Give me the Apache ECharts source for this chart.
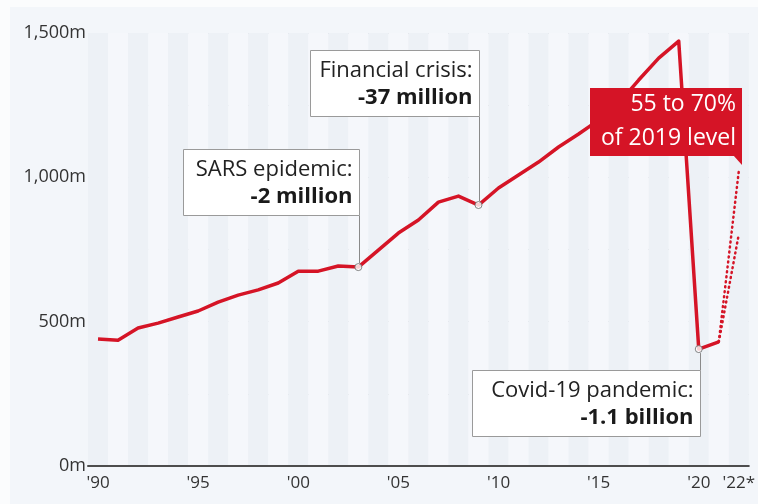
<!DOCTYPE html>
<html>
<head>
<meta charset="utf-8">
<script src="https://cdn.jsdelivr.net/npm/echarts@6/dist/echarts.min.js"></script>
<style>html,body{margin:0;padding:0;background:#fff}#c{width:758px;height:504px}</style>
</head>
<body>
<div id="c"></div>
<script>
// ---- data ----
const years = ['1990','1991','1992','1993','1994','1995','1996','1997','1998','1999','2000','2001','2002','2003','2004','2005','2006','2007','2008','2009','2010','2011','2012','2013','2014','2015','2016','2017','2018','2019','2020','2021','2022'];
const arrivals = [440,436,478,495,516,537,568,592,610,634,675,675,693,689,748,807,852,914,935,904,963,1008,1053,1105,1150,1198,1257,1337,1413,1472,405,430];
const projectionYears = ['2021','2022'];
const projectionHigh = [430,1022];
const projectionLow = [430,803];
const yTickValues = [0,500,1000,1500];
const xTickYears = ['1990','1995','2000','2005','2010','2015','2020','2022'];
const xTickLabels = ["'90","'95","'00","'05","'10","'15","'20","'22*"];
const eventYears = ['2003','2009','2020'];
const eventTitles = ['SARS epidemic:','Financial crisis:','Covid-19 pandemic:'];
const eventChanges = ['-2 million','-37 million','-1.1 billion'];
const calloutLines = ['55 to 70%','of 2019 level'];

const RED = '#d51426';
const FONT = '"Open Sans", "Noto Sans", sans-serif';

const chart = echarts.init(document.getElementById('c'), null, {renderer:'canvas'});

const idx = y => years.indexOf(y);
const padSeries = (ys, vals) => years.map(y => { const i = ys.indexOf(y); return i < 0 ? null : vals[i]; });

chart.setOption({
  backgroundColor: '#f3f6fa',
  animation: false,
  grid: {left: 88, right: 4, top: 33, bottom: 38, containLabel: false},
  xAxis: {
    type: 'category', data: years, boundaryGap: true,
    axisLine: {show: true, lineStyle: {color: '#4d4d4d', width: 2}},
    axisTick: {show: false},
    axisLabel: {
      interval: (i, v) => xTickYears.includes(v),
      formatter: v => { const i = xTickYears.indexOf(v); return i < 0 ? '' : xTickLabels[i]; },
      color: '#333', fontSize: 17, fontFamily: FONT, margin: 9
    },
    splitLine: {show: false},
    splitArea: {show: true, interval: 0, areaStyle: {color: ['#edf1f6', '#f5f7fb']}}
  },
  yAxis: {
    type: 'value', min: 0, max: 1500, interval: 250,
    axisLine: {show: false}, axisTick: {show: false},
    axisLabel: {
      formatter: v => yTickValues.includes(v) ? v.toLocaleString('en-US') + 'm' : '',
      color: '#333', fontSize: 18, fontFamily: FONT, margin: 2
    },
    splitLine: {show: true, lineStyle: {color: '#c6cbd3', width: 1}}
  },
  series: [
    {type: 'line', data: arrivals, symbol: 'none', lineStyle: {color: RED, width: 3.5, join: 'round'}, z: 3},
    {type: 'line', data: padSeries(projectionYears, projectionHigh), symbol: 'none', connectNulls: false,
      lineStyle: {color: RED, width: 2.5, type: [1, 4], cap: 'round'}, z: 3},
    {type: 'line', data: padSeries(projectionYears, projectionLow), symbol: 'none', connectNulls: false,
      lineStyle: {color: RED, width: 2.5, type: [1, 4], cap: 'round'}, z: 3},
    {type: 'scatter', data: eventYears.map(y => [y, arrivals[idx(y)]]), symbol: 'circle', symbolSize: 7,
      itemStyle: {color: '#fff', borderColor: '#666', borderWidth: 1}, z: 5}
  ]
});

// ---- annotations positioned through the chart's scales ----
const px = (y, v) => chart.convertToPixel({xAxisIndex: 0, yAxisIndex: 0}, [y, v]);
const boxW = [176, 169, 228];
const boxGap = [-52, -89, 21]; // negative: box above point, positive: below
const BOX_H = 66;
const g = [];
// white page edge
g.push({type: 'rect', shape: {x: 0, y: 0, width: 758, height: 7}, style: {fill: '#fbfcfd'}, z: 0});
g.push({type: 'rect', shape: {x: 0, y: 0, width: 10, height: 504}, style: {fill: '#fbfcfd'}, z: 0});

eventYears.forEach((y, k) => {
  const p = px(y, arrivals[idx(y)]);
  const right = Math.round(p[0]) + 1.5;
  let top, lineFrom, lineTo;
  if (boxGap[k] < 0) { top = Math.round(p[1] + boxGap[k] - BOX_H) + 0.5; lineFrom = top + BOX_H; lineTo = p[1] - 4; }
  else { top = Math.round(p[1] + boxGap[k]) + 0.5; lineFrom = p[1] + 4; lineTo = top; }
  g.push({type: 'line', shape: {x1: right, y1: lineFrom, x2: right, y2: lineTo}, style: {stroke: '#8a8a8a', lineWidth: 1}, z: 50});
  g.push({type: 'rect', shape: {x: right - boxW[k], y: top, width: boxW[k], height: BOX_H},
    style: {fill: '#ffffff', stroke: '#9a9a9a', lineWidth: 1}, z: 60});
  g.push({type: 'text', x: right - 7, y: top + 20, style: {text: eventTitles[k], fill: '#222', fontSize: 22, fontFamily: FONT, fontWeight: 400, align: 'right', verticalAlign: 'middle'}, z: 61});
  g.push({type: 'text', x: right - 7, y: top + 47, style: {text: eventChanges[k], fill: '#1a1a1a', fontSize: 22, fontFamily: FONT, fontWeight: 700, align: 'right', verticalAlign: 'middle'}, z: 61});
});

// red callout anchored to the upper 2022 projection
const hp = px('2022', projectionHigh[1]);
const cr = Math.round(hp[0]) + 3, cb = Math.round(hp[1]) - 15, cw = 152, ch = 68;
g.push({type: 'rect', shape: {x: cr - cw, y: cb - ch, width: cw, height: ch}, style: {fill: RED}, z: 70});
g.push({type: 'polygon', shape: {points: [[cr - 9, cb - 1], [cr, cb - 1], [cr, hp[1] - 6]]}, style: {fill: RED}, z: 70});
g.push({type: 'text', x: cr - 6, y: cb - ch + 16, style: {text: calloutLines[0], fill: '#fff', fontSize: 23, fontFamily: FONT, align: 'right', verticalAlign: 'middle'}, z: 71});
g.push({type: 'text', x: cr - 6, y: cb - ch + 50, style: {text: calloutLines[1], fill: '#fff', fontSize: 23, fontFamily: FONT, align: 'right', verticalAlign: 'middle'}, z: 71});

chart.setOption({graphic: g});
</script>
</body>
</html>
